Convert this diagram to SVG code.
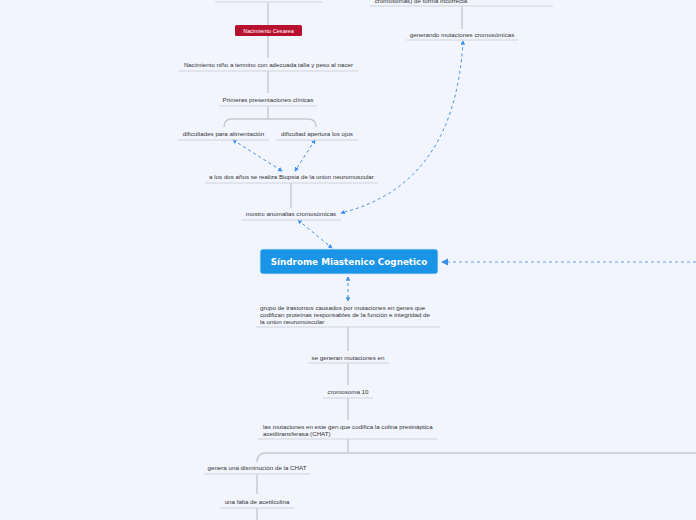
<svg xmlns="http://www.w3.org/2000/svg" width="696" height="520" viewBox="0 0 696 520">
<defs>
<style>
.t{font-family:"Liberation Sans",Arial,sans-serif;font-size:6.2px;fill:#333;}
.u{stroke:#cfd3dc;stroke-width:1.2;fill:none;}
.l{stroke:#c6c9d2;stroke-width:1.4;fill:none;}
.d{stroke:#3d8fe8;stroke-width:1;stroke-dasharray:3,3;fill:none;}
.dl{stroke:#92bff0;stroke-width:1.6;stroke-dasharray:3,3;fill:none;}
</style>
<marker id="a" viewBox="0 0 6 6" refX="5" refY="3" markerWidth="4.5" markerHeight="4.5" orient="auto-start-reverse"><path d="M0,0 L6,3 L0,6 z" fill="#3d8fe8"/></marker>
</defs>
<rect width="696" height="520" fill="#f2f5fe"/>
<g id="connectors">
<path class="l" d="M268,3 V25 M268,36 V58 M268,71 V93 M268,106 V119"/>
<path class="l" d="M268,119 H232 Q224,119 224,127 M268,119 H308 Q316,119 316,127"/>
<path class="l" d="M291,183 V208"/>
<path class="l" d="M462,6 V29"/>
<path class="l" d="M348,326 V351 M348,363 V385 M348,398 V420 M348,439 V453"/>
<path class="l" d="M696,453 H266 Q257,453 257,462"/>
<path class="l" d="M257,474 V494 M257,508 V520"/>
<path class="d" d="M233,140 L282,171" marker-start="url(#a)" marker-end="url(#a)"/>
<path class="d" d="M315,140 L295,171" marker-start="url(#a)" marker-end="url(#a)"/>
<path class="d" d="M463,41 Q455,185 341,213" marker-start="url(#a)" marker-end="url(#a)"/>
<path class="d" d="M298,220 L332,248" marker-start="url(#a)" marker-end="url(#a)"/>
<path class="d" d="M348,277 V301" marker-start="url(#a)" marker-end="url(#a)"/>
<path class="dl" d="M696,262 H442" marker-end="url(#a)"/>
</g>
<g id="n0"><path class="u" d="M215,2 H322"/></g>
<g id="n1"><rect x="235" y="25" width="67" height="11" rx="1.5" fill="#b8102f"/><text class="t" x="268.5" y="32.5" text-anchor="middle" style="fill:#fff;font-size:5.6px">Nacimiento Cesarea</text></g>
<g id="n2"><text class="t" x="268.5" y="67" text-anchor="middle">Nacimiento niño a termino con adecuada talla y peso al nacer</text><path class="u" d="M179,71 H358"/></g>
<g id="n3"><text class="t" x="268" y="102" text-anchor="middle">Primeras presentaciones clínicas</text><path class="u" d="M219,106 H317"/></g>
<g id="n4"><text class="t" x="223.5" y="136" text-anchor="middle">dificultades para alimentación</text><path class="u" d="M178,140 H269"/></g>
<g id="n5"><text class="t" x="317" y="136" text-anchor="middle">dificultad apertura los ojos</text><path class="u" d="M276,140 H358"/></g>
<g id="n6"><text class="t" x="291.5" y="179" text-anchor="middle">a los dos años se realiza Biopsia de la union neuromuscular</text><path class="u" d="M205,183 H378"/></g>
<g id="n7"><text class="t" x="291" y="216" text-anchor="middle">mostro anomalias cromosómicas</text><path class="u" d="M241,220 H341"/></g>
<g id="n8"><text class="t" x="421" y="3" text-anchor="middle">cromosomas) de forma incorrecta</text><path class="u" d="M370,6 H553"/></g>
<g id="n9"><text class="t" x="462" y="37" text-anchor="middle">generando mutaciones cromosómicas</text><path class="u" d="M406,40 H518"/></g>
<g id="center"><rect x="260" y="249" width="178" height="25" rx="3" fill="#1a94e6" stroke="#cfe6fb" stroke-width="0.8"/><text x="349" y="265" text-anchor="middle" style="font-family:'DejaVu Sans','Liberation Sans',sans-serif;font-size:8.8px;font-weight:bold;fill:#fff">Síndrome Miastenico Cognetico</text></g>
<g id="n10"><text class="t" x="260" y="310">grupo de trastornos causados por mutaciones en genes que</text><text class="t" x="260" y="317">codifican proteínas responsables de la función e integridad de</text><text class="t" x="260" y="324">la union neuromuscular</text><path class="u" d="M256,327 H440"/></g>
<g id="n11"><text class="t" x="348" y="360" text-anchor="middle">se generan mutaciones en</text><path class="u" d="M308,363 H389"/></g>
<g id="n12"><text class="t" x="348" y="394" text-anchor="middle">cromosoma 10</text><path class="u" d="M323,398 H373"/></g>
<g id="n13"><text class="t" x="263" y="429">las mutaciones en este gen que codifica la colina presináptica</text><text class="t" x="263" y="436">acetiltransferasa (CHAT)</text><path class="u" d="M258,439 H437"/></g>
<g id="n14"><text class="t" x="257" y="470" text-anchor="middle">genera una disminución de la CHAT</text><path class="u" d="M204,474 H310"/></g>
<g id="n15"><text class="t" x="257" y="504" text-anchor="middle">una falta de acetilcolina</text><path class="u" d="M220,508 H294"/></g>
</svg>
